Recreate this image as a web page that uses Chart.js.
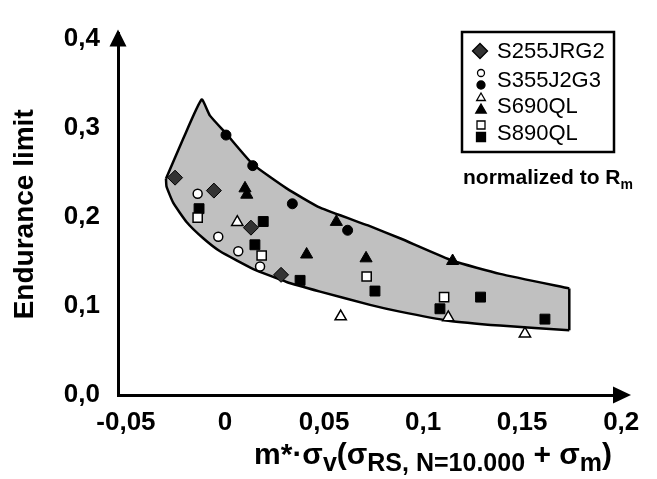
<!DOCTYPE html>
<html>
<head>
<meta charset="utf-8">
<script src="https://cdn.jsdelivr.net/npm/chart.js@4/dist/chart.umd.min.js"></script>
<style>
html,body{margin:0;padding:0;background:#fff;}
#wrap{width:657px;height:479px;position:relative;}
</style>
</head>
<body>
<div id="wrap"><canvas id="c"></canvas></div>
<script>
// endurance limit vs. m*·σv(...) — scatter with scatter band
const xTicks = [-0.05, 0, 0.05, 0.1, 0.15, 0.2];
const xTickLabels = ["-0,05", "0", "0,05", "0,1", "0,15", "0,2"];
const yTicks = [0, 0.1, 0.2, 0.3, 0.4];
const yTickLabels = ["0,0", "0,1", "0,2", "0,3", "0,4"];

const s255 = [[-0.0252,0.2438],[-0.0056,0.2293],[0.0131,0.1877],[0.0283,0.1348]];
const s355Open = [[-0.0138,0.2258],[-0.0034,0.1775],[0.0067,0.1612],[0.0177,0.1442]];
const s355Fill = [[0.0005,0.2916],[0.014,0.2573],[0.034,0.2145],[0.0619,0.1848]];
const s690Open = [[0.0062,0.1938],[0.0584,0.088],[0.1127,0.087],[0.1514,0.0688]];
const s690Fill = [[0.0101,0.2318],[0.011,0.2247],[0.0412,0.1576],[0.0562,0.1942],[0.0712,0.1533],[0.1149,0.1503]];
const s890Open = [[-0.0138,0.1989],[0.0185,0.1565],[0.0715,0.1329],[0.1106,0.1098]];
const s890Fill = [[-0.0131,0.209],[0.0193,0.1946],[0.0151,0.1685],[0.0379,0.1286],[0.0757,0.1166],[0.1085,0.0967],[0.129,0.1098],[0.1615,0.0851]];

// scatter band outline
const bandUpper = [[-0.0298,0.2427],[-0.021,0.288],[-0.0118,0.3315],[-0.0076,0.3134],[0.0005,0.2935],[0.014,0.259],[0.0311,0.2318],[0.048,0.2101],[0.0722,0.1902],[0.0883,0.1758],[0.1153,0.1503],[0.1388,0.1359],[0.1738,0.1196]];
const bandLower = [[-0.0298,0.2427],[-0.0295,0.2337],[-0.0261,0.2155],[-0.0193,0.1938],[-0.011,0.1758],[-0.0025,0.1612],[0.0143,0.1413],[0.0311,0.1268],[0.048,0.116],[0.0732,0.1011],[0.0883,0.0935],[0.1127,0.0834],[0.1388,0.0779],[0.1738,0.0725]];

const xy = a => a.map(p => ({x: p[0], y: p[1]}));
const FONT = "Arial, 'Liberation Sans', sans-serif";

function pts(data, style, r, bg, bw){
  return {type:"scatter", data:xy(data), pointStyle:style, pointRadius:r, pointHoverRadius:r,
    backgroundColor:bg, borderColor:"#000", borderWidth:bw, order:1};
}

const datasets = [
  {type:"line", data:xy(bandUpper), fill:1, backgroundColor:"#c0c0c0", borderColor:"#000", borderWidth:2.5, pointRadius:0, tension:0.15, order:12},
  {type:"line", data:xy(bandLower), fill:false, borderColor:"#000", borderWidth:2.5, pointRadius:0, tension:0.15, order:11},
  {type:"line", data:xy([bandUpper[bandUpper.length-1], bandLower[bandLower.length-1]]), fill:false, borderColor:"#000", borderWidth:2.5, pointRadius:0, order:11},
  pts(s255, "rectRot", 7.5, "#333", 1),
  pts(s355Open, "circle", 4.5, "#fff", 1.5),
  pts(s355Fill, "circle", 5, "#000", 1),
  pts(s690Open, "triangle", 6.5, "#fff", 1.5),
  pts(s690Fill, "triangle", 7, "#000", 1),
  pts(s890Open, "rect", 6.5, "#fff", 1.5),
  pts(s890Fill, "rect", 7, "#000", 1)
];

function mark(ctx, style, x, y, r, fill){
  ctx.beginPath();
  if(style==="circle"){ ctx.arc(x,y,r,0,Math.PI*2); }
  else if(style==="rect"){ ctx.rect(x-r,y-r,2*r,2*r); }
  else if(style==="rectRot"){ ctx.moveTo(x-r,y); ctx.lineTo(x,y-r); ctx.lineTo(x+r,y); ctx.lineTo(x,y+r); ctx.closePath(); }
  else if(style==="triangle"){ ctx.moveTo(x,y-r); ctx.lineTo(x+r*0.87,y+r*0.5); ctx.lineTo(x-r*0.87,y+r*0.5); ctx.closePath(); }
  ctx.fillStyle = fill; ctx.fill();
  ctx.lineWidth = 1.3; ctx.strokeStyle = "#000"; ctx.stroke();
}

function subText(ctx, parts, cx, y, mainFont, subFont, drop){
  let w = 0;
  parts.forEach(p => { ctx.font = p[1] ? subFont : mainFont; w += ctx.measureText(p[0]).width; });
  let x = cx - w/2;
  ctx.textAlign = "left"; ctx.textBaseline = "alphabetic";
  parts.forEach(p => {
    ctx.font = p[1] ? subFont : mainFont;
    ctx.fillText(p[0], x, p[1] ? y + drop : y);
    x += ctx.measureText(p[0]).width;
  });
}

const decor = {
  id:"decor",
  afterDraw(chart){
    const {ctx, chartArea:a} = chart;
    ctx.save();
    ctx.fillStyle = "#000";
    // axis arrows
    ctx.beginPath(); ctx.moveTo(a.left, a.top-4); ctx.lineTo(a.left-8.5, a.top+13); ctx.lineTo(a.left+8.5, a.top+13); ctx.closePath(); ctx.fill();
    ctx.beginPath(); ctx.moveTo(a.right+9, a.bottom); ctx.lineTo(a.right-9, a.bottom-8.5); ctx.lineTo(a.right-9, a.bottom+8.5); ctx.closePath(); ctx.fill();

    // legend
    ctx.lineWidth = 2.5; ctx.strokeStyle = "#000";
    ctx.strokeRect(462, 32, 152, 120);
    mark(ctx, "rectRot", 480, 51, 7.5, "#333");
    mark(ctx, "circle", 481, 73, 3.5, "#fff");
    mark(ctx, "circle", 481, 85, 4, "#000");
    mark(ctx, "triangle", 481, 98, 5, "#fff");
    mark(ctx, "triangle", 481, 110, 6, "#000");
    mark(ctx, "rect", 481, 125, 4, "#fff");
    mark(ctx, "rect", 481, 137, 4.5, "#000");
    ctx.fillStyle = "#000";
    ctx.font = "22px " + FONT; ctx.textAlign = "left"; ctx.textBaseline = "middle";
    ctx.fillText("S255JRG2", 497, 52);
    ctx.fillText("S355J2G3", 497, 81);
    ctx.fillText("S690QL", 497, 107);
    ctx.fillText("S890QL", 497, 134);
    subText(ctx, [["normalized to R",0],["m",1]], 548, 184, "bold 21px " + FONT, "bold 14px " + FONT, 5);

    // x axis title
    subText(ctx, [["m*·σ",0],["v",1],["(σ",0],["RS, N=10.000",1],[" + σ",0],["m",1],[")",0]],
      433, 464, "bold 30px " + FONT, "bold 25px " + FONT, 7);
    ctx.restore();
  }
};

new Chart(document.getElementById("c"), {
  type:"scatter",
  data:{datasets},
  options:{
    responsive:true, maintainAspectRatio:false, animation:false,
    layout:{padding:{top:22, right:35, left:0, bottom:0}},
    plugins:{legend:{display:false}, tooltip:{enabled:false}},
    scales:{
      x:{
        type:"linear", min:-0.05401, max:0.2004,
        grid:{display:false, drawTicks:false},
        border:{display:true, color:"#000", width:3},
        afterBuildTicks: s => { s.ticks = xTicks.map(v => ({value:v})); },
        afterFit: s => { s.height = 84; },
        ticks:{autoSkip:false, maxRotation:0, padding:12, color:"#000",
          font:{family:FONT, size:26, weight:"bold"},
          callback:(v,i) => xTickLabels[i]}
      },
      y:{
        type:"linear", min:0, max:0.4054,
        grid:{display:false, drawTicks:false},
        border:{display:true, color:"#000", width:3},
        afterBuildTicks: s => { s.ticks = yTicks.map(v => ({value:v})); },
        afterFit: s => { s.width = 118; },
        ticks:{autoSkip:false, padding:18, color:"#000",
          font:{family:FONT, size:26, weight:"bold"},
          callback:(v,i) => yTickLabels[i]},
        title:{display:true, text:"Endurance limit", color:"#000", padding:{top:8, bottom:0},
          font:{family:FONT, size:28, weight:"bold"}}
      }
    }
  },
  plugins:[decor]
});
</script>
</body>
</html>
